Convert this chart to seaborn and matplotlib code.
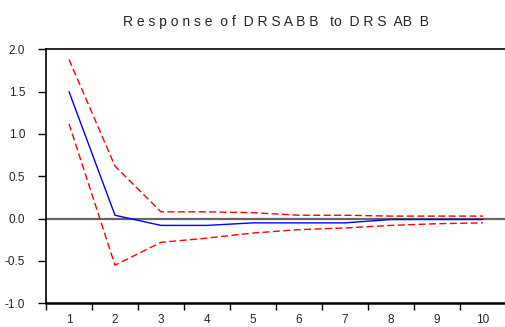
import numpy as np
import pandas as pd
import matplotlib
matplotlib.use("Agg")
import matplotlib.pyplot as plt
import seaborn as sns

periods = [1, 2, 3, 4, 5, 6, 7, 8, 9, 10]
response = [1.50, 0.04, -0.08, -0.08, -0.05, -0.05, -0.05, -0.01, -0.01, -0.01]
upper = [1.88, 0.62, 0.08, 0.08, 0.07, 0.04, 0.04, 0.03, 0.03, 0.03]
lower = [1.12, -0.55, -0.28, -0.23, -0.17, -0.13, -0.11, -0.08, -0.06, -0.05]
y_ticks = [-1.0, -0.5, 0.0, 0.5, 1.0, 1.5, 2.0]

df = pd.DataFrame({"period": periods, "response": response, "upper": upper, "lower": lower})

sns.set_style("white")
plt.rcParams["font.family"] = ["Liberation Sans Narrow", "Liberation Sans", "DejaVu Sans"]

fig = plt.figure(figsize=(5.05, 3.27), dpi=100)
ax = fig.add_axes([46 / 505, 1 - 303.3 / 327, 460 / 505, 254 / 327])

ax.axhline(0, color="#666666", lw=1.6, zorder=1)
sns.lineplot(data=df, x="period", y="response", ax=ax, color="blue", lw=1.0, zorder=3)
sns.lineplot(data=df, x="period", y="upper", ax=ax, color="red", lw=1.0,
             linestyle=(0, (5, 2.5)), zorder=2)
sns.lineplot(data=df, x="period", y="lower", ax=ax, color="red", lw=1.0,
             linestyle=(0, (5, 2.5)), zorder=2)

ax.set_xlim(0.5, 10.5)
ax.set_ylim(-1.0, 2.0)
ax.set_xlabel("")
ax.set_ylabel("")

# ticks between periods, labels centred on periods
ax.set_xticks(np.arange(0.5, 11, 1.0))
ax.set_xticklabels([])
ax.set_xticks(periods, minor=True)
ax.set_xticklabels([str(p) for p in periods], minor=True, fontsize=8.5)
ax.tick_params(axis="x", which="major", direction="out", length=5, width=1, color="black", bottom=True)
ax.tick_params(axis="x", which="minor", length=0, pad=8, bottom=True)

ax.set_yticks(y_ticks)
ax.set_yticklabels([f"{v:.1f}" for v in y_ticks], fontsize=8.5)
ax.tick_params(axis="y", direction="out", length=6, width=1, color="black", pad=9, left=True)

for side in ["left", "top", "bottom"]:
    ax.spines[side].set_visible(True)
    ax.spines[side].set_color("black")
ax.spines["left"].set_linewidth(1.2)
ax.spines["top"].set_linewidth(1.2)
ax.spines["bottom"].set_linewidth(1.8)
ax.spines["right"].set_visible(False)

ax.set_title("R e s p o n s e  o f  D R S A B B   to  D R S  AB  B", fontsize=10, pad=17)

fig.savefig("out.png", dpi=100)
